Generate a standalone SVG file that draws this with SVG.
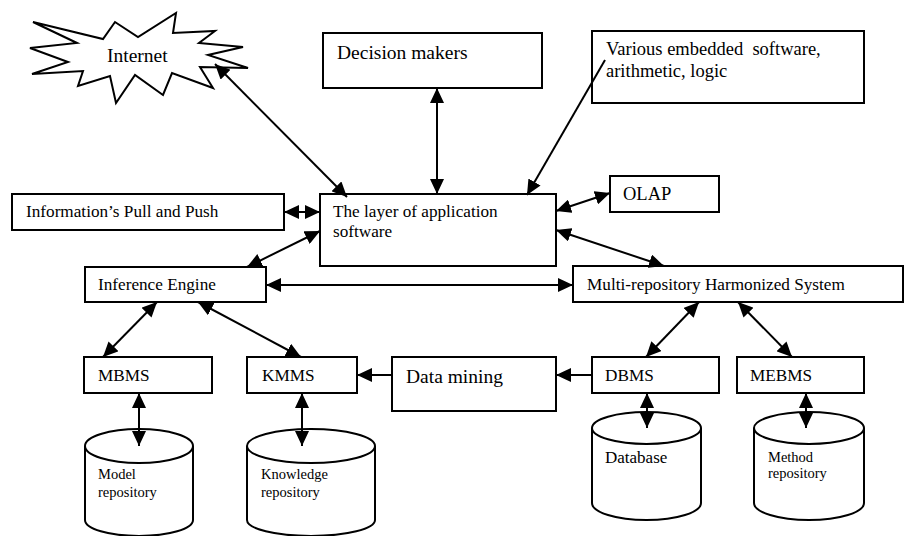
<svg xmlns="http://www.w3.org/2000/svg" width="906" height="536" viewBox="0 0 906 536">
<style>
.box{fill:#fff;stroke:#000;stroke-width:2}
.t{font-family:"Liberation Serif","Times New Roman",serif;fill:#000}
.c{fill:none;stroke:#000;stroke-width:2}
</style>
<defs>
<marker id="ah" viewBox="0 0 15 14" refX="15" refY="7" markerWidth="15" markerHeight="14" markerUnits="userSpaceOnUse" orient="auto-start-reverse">
<path d="M0,0 L15,7 L0,14 z" fill="#000"/>
</marker>
</defs>
<rect width="906" height="536" fill="#fff"/>

<g id="internet">
<polygon class="box" points="33,22 77,43 30,48 68,62 32,74 83,71 78,86 110,76 116,103 135,75 163,95 172,73 213,88 200,67 248,68 208,55 243,47 199,43 215,31 173,33 176,13 138,37 115,22 103,39"/>
<text class="t" x="107" y="62" font-size="19.5">Internet</text>
</g>

<g id="decision-makers">
<rect class="box" x="323" y="33" width="219" height="55"/>
<text class="t" x="337" y="59" font-size="19.5">Decision makers</text>
</g>

<g id="various">
<rect class="box" x="592" y="31" width="272" height="72"/>
<text class="t" x="606" y="55" font-size="18.5" xml:space="preserve">Various embedded  software,</text>
<text class="t" x="606" y="77" font-size="18.5">arithmetic, logic</text>
</g>

<g id="olap">
<rect class="box" x="610" y="176" width="109" height="36"/>
<text class="t" x="623" y="200" font-size="18.5">OLAP</text>
</g>

<g id="app-layer">
<rect class="box" x="320" y="194" width="236" height="72"/>
<text class="t" x="333" y="217" font-size="17.2">The layer of application</text>
<text class="t" x="333" y="237" font-size="17.2">software</text>
</g>

<g id="info-pull-push">
<rect class="box" x="12" y="194" width="272" height="36"/>
<text class="t" x="26" y="217" font-size="17.2">Information’s Pull and Push</text>
</g>

<g id="inference-engine">
<rect class="box" x="85" y="267" width="181" height="35"/>
<text class="t" x="98" y="290" font-size="17.2">Inference Engine</text>
</g>

<g id="multi-repo">
<rect class="box" x="573" y="266" width="330" height="36"/>
<text class="t" x="587" y="290" font-size="17.2">Multi-repository Harmonized System</text>
</g>

<g id="mbms">
<rect class="box" x="84" y="357" width="128" height="36"/>
<text class="t" x="98" y="381" font-size="17.2">MBMS</text>
</g>

<g id="kmms">
<rect class="box" x="247" y="357" width="110" height="36"/>
<text class="t" x="262" y="381" font-size="17.2">KMMS</text>
</g>

<g id="data-mining">
<rect class="box" x="392" y="357" width="164" height="54"/>
<text class="t" x="406" y="383" font-size="19.5">Data mining</text>
</g>

<g id="dbms">
<rect class="box" x="592" y="357" width="127" height="36"/>
<text class="t" x="605" y="381" font-size="17.2">DBMS</text>
</g>

<g id="mebms">
<rect class="box" x="737" y="357" width="127" height="36"/>
<text class="t" x="750" y="381" font-size="17.2">MEBMS</text>
</g>

<g id="model-repository">
<path class="box" d="M85,446 L85,520 A54,16 0 0 0 193,520 L193,446 A54,17 0 0 0 85,446 Z"/>
<path class="c" d="M85,446 A54,17 0 0 0 193,446"/>
<text class="t" x="98" y="479" font-size="14.5">Model</text>
<text class="t" x="98" y="497" font-size="14.5">repository</text>
</g>

<g id="knowledge-repository">
<path class="box" d="M247,446 L247,520 A64,16 0 0 0 375,520 L375,446 A64,17 0 0 0 247,446 Z"/>
<path class="c" d="M247,446 A64,17 0 0 0 375,446"/>
<text class="t" x="261" y="479" font-size="14.5">Knowledge</text>
<text class="t" x="261" y="497" font-size="14.5">repository</text>
</g>

<g id="database">
<path class="box" d="M592,428 L592,503 A54.5,17 0 0 0 701,503 L701,428 A54.5,16 0 0 0 592,428 Z"/>
<path class="c" d="M592,428 A54.5,16 0 0 0 701,428"/>
<text class="t" x="605" y="463" font-size="17">Database</text>
</g>

<g id="method-repository">
<path class="box" d="M754,428 L754,503 A55,17 0 0 0 864,503 L864,428 A55,16 0 0 0 754,428 Z"/>
<path class="c" d="M754,428 A55,16 0 0 0 864,428"/>
<text class="t" x="768" y="462" font-size="14.5">Method</text>
<text class="t" x="768" y="478" font-size="14.5">repository</text>
</g>

<g id="connectors">
<line class="c" x1="215" y1="64" x2="347" y2="197" marker-start="url(#ah)" marker-end="url(#ah)"/>
<line class="c" x1="437" y1="88" x2="437" y2="194" marker-start="url(#ah)" marker-end="url(#ah)"/>
<line class="c" x1="605" y1="60" x2="527" y2="195" marker-end="url(#ah)"/>
<line class="c" x1="284" y1="212" x2="320" y2="212" marker-start="url(#ah)" marker-end="url(#ah)"/>
<line class="c" x1="556" y1="211" x2="610" y2="193" marker-start="url(#ah)" marker-end="url(#ah)"/>
<line class="c" x1="556" y1="230" x2="664" y2="266" marker-start="url(#ah)" marker-end="url(#ah)"/>
<line class="c" x1="247" y1="267" x2="320" y2="231" marker-start="url(#ah)" marker-end="url(#ah)"/>
<line class="c" x1="266" y1="285" x2="573" y2="285" marker-start="url(#ah)" marker-end="url(#ah)"/>
<line class="c" x1="157" y1="302" x2="103" y2="357" marker-start="url(#ah)" marker-end="url(#ah)"/>
<line class="c" x1="198" y1="302" x2="301" y2="357" marker-start="url(#ah)" marker-end="url(#ah)"/>
<line class="c" x1="392" y1="375" x2="357" y2="375" marker-end="url(#ah)"/>
<line class="c" x1="592" y1="375" x2="556" y2="375" marker-end="url(#ah)"/>
<line class="c" x1="699" y1="302" x2="646" y2="357" marker-start="url(#ah)" marker-end="url(#ah)"/>
<line class="c" x1="738" y1="302" x2="792" y2="357" marker-start="url(#ah)" marker-end="url(#ah)"/>
<line class="c" x1="139" y1="393" x2="139" y2="446" marker-start="url(#ah)" marker-end="url(#ah)"/>
<line class="c" x1="302" y1="393" x2="302" y2="446" marker-start="url(#ah)" marker-end="url(#ah)"/>
<line class="c" x1="647" y1="393" x2="647" y2="428" marker-start="url(#ah)" marker-end="url(#ah)"/>
<line class="c" x1="806" y1="393" x2="806" y2="428" marker-start="url(#ah)" marker-end="url(#ah)"/>
</g>
</svg>
